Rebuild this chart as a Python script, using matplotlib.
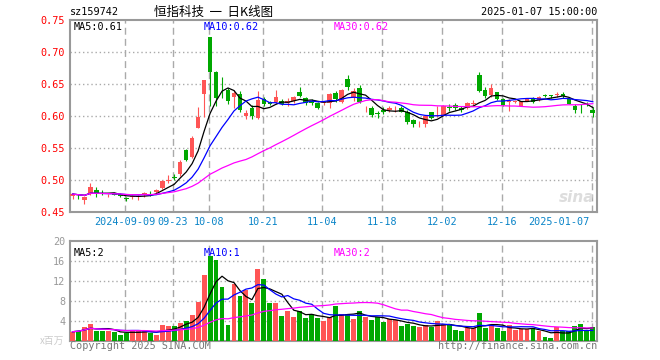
import matplotlib
matplotlib.use('Agg')
import matplotlib.pyplot as plt
import numpy as np
import pandas as pd

plt.rcParams['font.family'] = ['DejaVu Sans Mono', 'Noto Sans CJK SC']

# daily k-line data, 2024-08-27 .. 2025-01-07 (88 trading days)
opens = [0.475, 0.477, 0.468, 0.478, 0.484, 0.479, 0.476, 0.479, 0.478, 0.471,
         0.473, 0.473, 0.477, 0.480, 0.481, 0.487, 0.499, 0.505, 0.510, 0.547,
         0.536, 0.582, 0.634, 0.724, 0.668, 0.644, 0.641, 0.630, 0.634, 0.600,
         0.613, 0.597, 0.627, 0.622, 0.622, 0.623, 0.621, 0.623, 0.638, 0.628,
         0.623, 0.620, 0.621, 0.620, 0.636, 0.622, 0.658, 0.628, 0.643, 0.615,
         0.613, 0.604, 0.610, 0.610, 0.612, 0.613, 0.607, 0.594, 0.587, 0.588,
         0.606, 0.600, 0.601, 0.614, 0.617, 0.613, 0.612, 0.618, 0.664, 0.641,
         0.633, 0.637, 0.626, 0.622, 0.622, 0.616, 0.624, 0.627, 0.625, 0.632,
         0.632, 0.633, 0.635, 0.627, 0.616, 0.616, 0.619, 0.610]
closes = [0.478, 0.476, 0.474, 0.489, 0.479, 0.478, 0.477, 0.477, 0.475, 0.470,
          0.475, 0.475, 0.479, 0.479, 0.485, 0.499, 0.500, 0.503, 0.528, 0.532,
          0.565, 0.599, 0.656, 0.668, 0.628, 0.643, 0.624, 0.636, 0.609, 0.605,
          0.600, 0.625, 0.618, 0.619, 0.629, 0.618, 0.623, 0.629, 0.631, 0.621,
          0.621, 0.613, 0.622, 0.635, 0.626, 0.641, 0.645, 0.639, 0.622, 0.616,
          0.602, 0.603, 0.606, 0.613, 0.613, 0.607, 0.590, 0.587, 0.588, 0.600,
          0.597, 0.602, 0.615, 0.613, 0.612, 0.610, 0.621, 0.621, 0.639, 0.631,
          0.644, 0.626, 0.617, 0.623, 0.624, 0.623, 0.626, 0.622, 0.630, 0.631,
          0.631, 0.634, 0.631, 0.619, 0.610, 0.615, 0.618, 0.604]
highs = [0.479, 0.478, 0.475, 0.496, 0.489, 0.485, 0.478, 0.480, 0.479, 0.474,
         0.476, 0.476, 0.482, 0.483, 0.486, 0.500, 0.508, 0.510, 0.531, 0.549,
         0.568, 0.614, 0.657, 0.724, 0.671, 0.661, 0.643, 0.640, 0.639, 0.609,
         0.617, 0.639, 0.630, 0.624, 0.640, 0.626, 0.628, 0.631, 0.646, 0.630,
         0.626, 0.622, 0.623, 0.636, 0.639, 0.642, 0.664, 0.643, 0.649, 0.616,
         0.616, 0.608, 0.614, 0.615, 0.616, 0.615, 0.609, 0.596, 0.592, 0.602,
         0.607, 0.615, 0.617, 0.619, 0.620, 0.616, 0.622, 0.625, 0.668, 0.646,
         0.650, 0.638, 0.628, 0.626, 0.625, 0.624, 0.627, 0.629, 0.631, 0.635,
         0.633, 0.638, 0.638, 0.628, 0.618, 0.618, 0.622, 0.614]
lows = [0.470, 0.470, 0.462, 0.477, 0.474, 0.476, 0.473, 0.476, 0.473, 0.467,
        0.470, 0.469, 0.474, 0.475, 0.480, 0.486, 0.496, 0.500, 0.507, 0.530,
        0.534, 0.581, 0.599, 0.615, 0.615, 0.628, 0.619, 0.612, 0.607, 0.595,
        0.596, 0.595, 0.615, 0.617, 0.619, 0.617, 0.615, 0.620, 0.630, 0.617,
        0.617, 0.611, 0.617, 0.613, 0.622, 0.621, 0.641, 0.623, 0.620, 0.607,
        0.599, 0.597, 0.603, 0.607, 0.607, 0.606, 0.588, 0.583, 0.583, 0.583,
        0.595, 0.598, 0.600, 0.608, 0.609, 0.607, 0.611, 0.616, 0.638, 0.628,
        0.630, 0.625, 0.615, 0.608, 0.620, 0.615, 0.623, 0.621, 0.624, 0.629,
        0.628, 0.630, 0.628, 0.618, 0.604, 0.605, 0.616, 0.599]
# volume in millions
volumes = [1.8, 2.0, 2.7, 3.4, 2.0, 2.0, 2.0, 1.7, 1.1, 1.6,
           2.0, 2.0, 2.0, 1.5, 1.1, 3.1, 2.9, 3.0, 3.5, 4.0,
           5.1, 7.7, 13.1, 16.9, 16.1, 10.7, 3.1, 11.3, 8.9, 10.2,
           7.5, 14.3, 12.3, 7.5, 7.5, 4.9, 5.9, 4.7, 6.0, 4.5,
           5.3, 4.5, 3.9, 4.8, 6.9, 5.3, 5.3, 4.3, 5.9, 4.7,
           4.1, 4.7, 3.7, 4.3, 4.1, 2.9, 3.3, 2.9, 2.7, 3.1,
           2.7, 3.9, 3.3, 3.3, 2.1, 1.9, 2.5, 2.5, 5.5, 2.5,
           3.1, 2.5, 1.9, 3.1, 2.1, 2.3, 2.3, 2.5, 1.9, 0.7,
           0.5, 2.7, 1.9, 1.9, 2.9, 3.3, 2.1, 2.7]

date_idx = [9, 17, 23, 32, 42, 52, 62, 72, 87]
date_labels = ['2024-09-09', '09-23', '10-08', '10-21', '11-04', '11-18',
               '12-02', '12-16', '2025-01-07']
price_ticks = [0.45, 0.50, 0.55, 0.60, 0.65, 0.70, 0.75]
vol_ticks = [4, 8, 12, 16, 20]
price_ma_labels = ['MA5:0.61', 'MA10:0.62', 'MA30:0.62']
vol_ma_labels = ['MA5:2', 'MA10:1', 'MA30:2']

UP = '#ff5555'
DOWN = '#00a800'
GRID = '#aaaaaa'
EDGE = '#999999'
W, H = 660, 360


def px(x, y):
    return x / W, 1 - y / H


df = pd.DataFrame({'o': opens, 'h': highs, 'l': lows, 'c': closes, 'v': volumes})
x = np.arange(len(df))
up = df.c >= df.o
colors = np.where(up, UP, DOWN)

fig = plt.figure(figsize=(6.6, 3.6), dpi=100)
ax = fig.add_axes([70 / W, 1 - 212 / H, 527 / W, 192 / H])
axv = fig.add_axes([70 / W, 1 - 340.7 / H, 527 / W, 100 / H])

for a in (ax, axv):
    a.set_xlim(-0.42, 87.7)
    for s in a.spines.values():
        s.set_color(EDGE)
        s.set_linewidth(1.5)
    a.tick_params(length=0)
    a.set_xticks([])
    for d in date_idx:
        a.axvline(d - 0.2, color=GRID, lw=1, ls=(0, (5, 3)), zorder=0)

# price panel
ax.set_ylim(0.45, 0.75)
ax.set_yticks(price_ticks)
ax.set_yticklabels(['%.2f' % t for t in price_ticks], color='#ff0000', fontsize=7.3)
for t in price_ticks[1:-1]:
    ax.axhline(t, color=GRID, lw=1, ls=(0, (1, 2)), zorder=0)

ax.vlines(x, df.l, df.h, colors=colors, lw=0.8, zorder=2)
body = np.maximum((df.c - df.o).abs(), 0.0012)
ax.bar(x, body, bottom=np.minimum(df.o, df.c), width=0.78, color=colors, lw=0, zorder=3)

ma_cols = [(5, 'black'), (10, '#0000ff'), (30, '#ff00ff')]
for n, col in ma_cols:
    ax.plot(x, df.c.rolling(n, min_periods=1).mean(), color=col, lw=0.9, zorder=4)
    axv.plot(x, df.v.rolling(n, min_periods=1).mean(), color=col, lw=0.9, zorder=4)

for (n, col), lab, xp in zip(ma_cols, price_ma_labels, [74, 204, 334]):
    fig.text(*px(xp, 27), lab, color=col, fontsize=7.3, va='center')

# volume panel
axv.set_ylim(0, 20)
axv.set_yticks(vol_ticks)
axv.set_yticklabels([str(t) for t in vol_ticks], color='#999999', fontsize=7.3)
for t in vol_ticks[:-1]:
    axv.axhline(t, color=GRID, lw=1, ls=(0, (1, 2)), zorder=0)
axv.bar(x, df.v, width=0.82, color=colors, lw=0, zorder=3)
for (n, col), lab, xp in zip(ma_cols, vol_ma_labels, [74, 204, 334]):
    fig.text(*px(xp, 253), lab, color=col, fontsize=7.3, va='center')

# date labels under price panel
for d, lab in zip(date_idx, date_labels):
    xd = ax.transData.transform((d - 0.2, 0))[0] / fig.dpi / 6.6
    ha = 'right' if lab == date_labels[-1] else 'center'
    if ha == 'right':
        xd -= 2 / W
    fig.text(xd, 1 - 222 / H, lab, color='#0a84c8', fontsize=7.3, ha=ha, va='center')

# header / footer texts
fig.text(*px(70, 12), 'sz159742', fontsize=7.3, va='center')
fig.text(*px(214, 12), '恒指科技  一  日K线图', fontsize=9, ha='center', va='center',
         family=['Noto Sans CJK SC', 'DejaVu Sans'])
fig.text(*px(597, 12), '2025-01-07 15:00:00', fontsize=7.3, ha='right', va='center')
fig.text(*px(70, 346), 'Copyright 2025 SINA.COM', color='#777777', fontsize=7.3, va='center')
fig.text(*px(597, 346), 'http://finance.sina.com.cn', color='#777777', fontsize=7.3,
         ha='right', va='center')
fig.text(*px(52, 341), 'x百万', color='#cccccc', fontsize=7, ha='center', va='center',
         family=['Noto Sans CJK SC', 'DejaVu Sans'])
fig.text(*px(577, 197), 'sina', color='#dddddd', fontsize=11, ha='center', va='center',
         style='italic', weight='bold', family='DejaVu Sans')

fig.savefig('out.png', dpi=100)
